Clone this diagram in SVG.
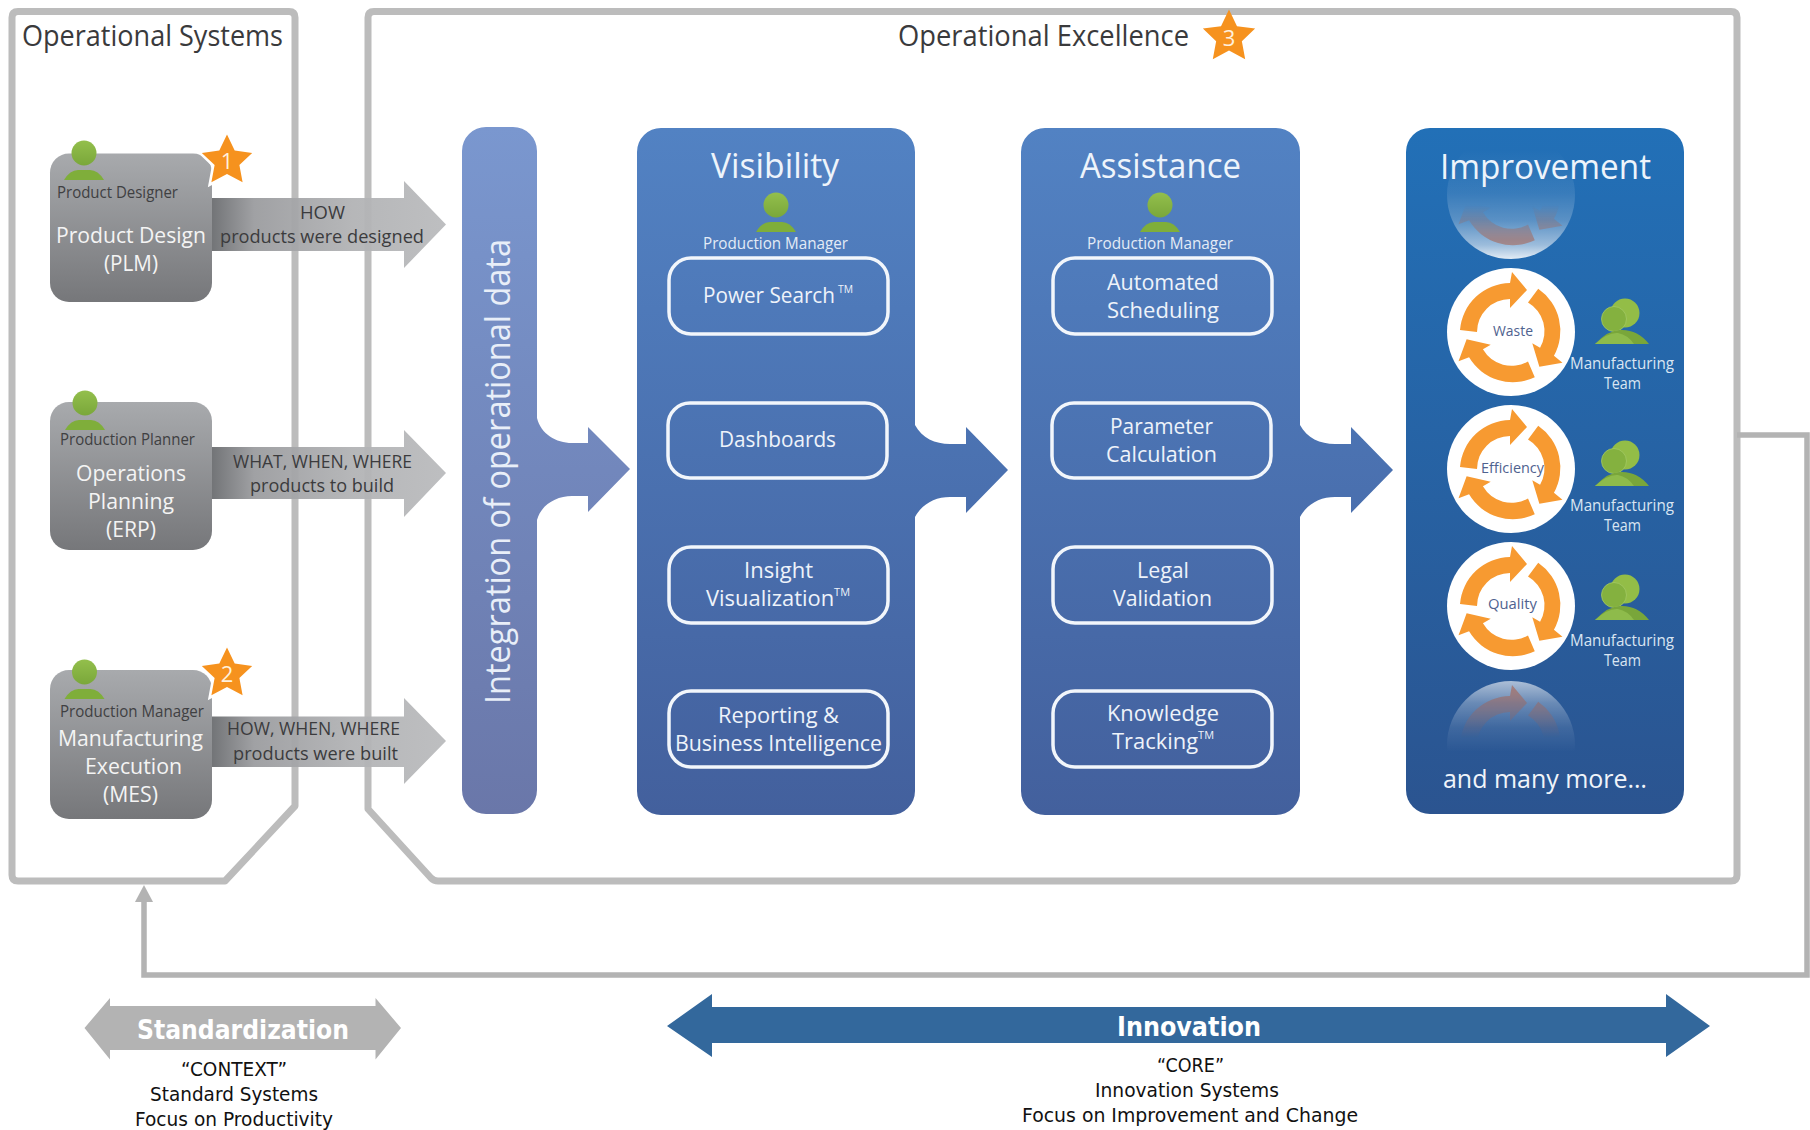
<svg xmlns="http://www.w3.org/2000/svg" xmlns:xlink="http://www.w3.org/1999/xlink" width="1810" height="1130" viewBox="0 0 1810 1130">
<style>
text{font-family:"Open Sans","Noto Sans",sans-serif}
.frame{fill:none;stroke:#bcbcbc;stroke-width:7;stroke-linejoin:round}
.title{font-size:29px;fill:#3a3a3c}
.role{font-size:16px;fill:#3f4042}
.sys{font-size:22px;fill:#f4f4f4}
.lab{font-size:19px;fill:#3b3b3d}
.head{font-size:35px;fill:#eef4fb}
.pm{font-size:16px;fill:#e3ebf6}
.item{font-size:22px;fill:#eef3fa}
.tm{font-size:11px}
.box{fill:none;stroke:#f2f6fb;stroke-width:3.5}
.team{font-size:16px;fill:#d9e5f2}
.cyc{font-size:15px;fill:#4f628f}
.num{font-size:22px;fill:#fff0dc;text-anchor:middle}
.ban{font-family:"DejaVu Sans",sans-serif;font-size:26px;font-weight:bold;fill:#fff}
.cap{font-family:"DejaVu Sans",sans-serif;font-size:20px;fill:#111}
.halo{stroke:#fff;stroke-width:5;paint-order:stroke}
</style>
<defs>
<linearGradient id="gNode" x1="0" y1="0" x2="0" y2="1"><stop offset="0" stop-color="#a8aaad"/><stop offset="1" stop-color="#76777a"/></linearGradient>
<linearGradient id="gArrow" x1="0" y1="0" x2="1" y2="0"><stop offset="0" stop-color="#6b6d70"/><stop offset=".18" stop-color="#9b9c9f"/><stop offset=".6" stop-color="#b2b3b5"/><stop offset="1" stop-color="#babbbd"/></linearGradient>
<linearGradient id="gInt" x1="0" y1="0" x2="0" y2="1"><stop offset="0" stop-color="#7a97cf"/><stop offset="1" stop-color="#6a77a9"/></linearGradient>
<linearGradient id="gPanel" x1="0" y1="0" x2="0" y2="1"><stop offset="0" stop-color="#5282c3"/><stop offset="1" stop-color="#43609d"/></linearGradient>
<linearGradient id="gImp" x1="0" y1="0" x2="0" y2="1"><stop offset="0" stop-color="#2270b7"/><stop offset="1" stop-color="#2b5490"/></linearGradient>
<linearGradient id="gGreen" x1="0" y1="0" x2="0" y2="1"><stop offset="0" stop-color="#93bf4c"/><stop offset="1" stop-color="#7aa73a"/></linearGradient>
<linearGradient id="gDomeTop" gradientUnits="userSpaceOnUse" x1="0" y1="150" x2="0" y2="258"><stop offset="0" stop-color="#fff" stop-opacity="0"/><stop offset=".4" stop-color="#fff" stop-opacity=".1"/><stop offset=".65" stop-color="#fff" stop-opacity=".25"/><stop offset=".88" stop-color="#fff" stop-opacity=".55"/><stop offset="1" stop-color="#fff" stop-opacity=".85"/></linearGradient>
<linearGradient id="gDomeBot" gradientUnits="userSpaceOnUse" x1="0" y1="682" x2="0" y2="752"><stop offset="0" stop-color="#fff" stop-opacity=".6"/><stop offset=".3" stop-color="#fff" stop-opacity=".3"/><stop offset=".65" stop-color="#fff" stop-opacity=".1"/><stop offset="1" stop-color="#fff" stop-opacity="0"/></linearGradient>
<linearGradient id="gSpinTop" gradientUnits="userSpaceOnUse" x1="0" y1="205" x2="0" y2="240"><stop offset="0" stop-color="#fff" stop-opacity="0"/><stop offset="1" stop-color="#fff" stop-opacity=".55"/></linearGradient>
<linearGradient id="gSpinBot" gradientUnits="userSpaceOnUse" x1="0" y1="690" x2="0" y2="738"><stop offset="0" stop-color="#fff" stop-opacity=".6"/><stop offset="1" stop-color="#fff" stop-opacity="0"/></linearGradient>
<mask id="mSpinTop" maskUnits="userSpaceOnUse" x="1440" y="125" width="150" height="140"><rect x="1440" y="125" width="150" height="140" fill="url(#gSpinTop)"/></mask>
<mask id="mSpinBot" maskUnits="userSpaceOnUse" x="1440" y="675" width="150" height="80"><rect x="1440" y="675" width="150" height="80" fill="url(#gSpinBot)"/></mask>
<g id="person"><circle r="12.5" fill="url(#gGreen)"/><path d="M-20,27 Q-14,17 -6,17 H6 Q14,17 20,27 Z" fill="#7fae3a"/></g>
<g id="team"><circle cx="11" cy="-31" r="14.5" fill="#93bd47"/><circle cx="0" cy="-25" r="12.5" fill="#84b13f" stroke="#a3c963" stroke-width=".8"/><path d="M-19,0 Q-5,-15 8,-14 Q24,-14 35,0 Z" fill="#79a63a"/><path d="M-19,0 Q-6,-12 4,-11 Q14,-9 20,0 Z" fill="#8ebb4b"/></g>
<polygon id="star" points="0,-25.4 7.4,-10 24.2,-7.8 11.9,3.9 15,20.5 0,12.5 -15,20.5 -11.9,3.9 -24.2,-7.8 -7.4,-10" fill="#f6921e"/>
<path id="spin" d="M-51,-2 A51,51 0 0 1 -1,-49 L1,-60 L16,-42 L-1,-24 L-1,-33 A33,33 0 0 0 -34,0 Z" fill="#f79a31"/>
<path id="spinF" d="M-51,-2 A51,51 0 0 1 -1,-49 L1,-60 L16,-42 L-1,-24 L-1,-33 A33,33 0 0 0 -34,0 Z" fill="#a85f4c"/>
<g id="cycle"><circle r="64" fill="#fff"/><use xlink:href="#spin" href="#spin"/><use xlink:href="#spin" href="#spin" transform="rotate(120)"/><use xlink:href="#spin" href="#spin" transform="rotate(240)"/></g>
<g id="spinsF"><use xlink:href="#spinF" href="#spinF"/><use xlink:href="#spinF" href="#spinF" transform="rotate(120)"/><use xlink:href="#spinF" href="#spinF" transform="rotate(240)"/></g>
</defs>
<rect width="1810" height="1130" fill="#fff"/>

<g id="operational-systems">
<path class="frame" d="M18,11.500 H289 Q295,11.500 295,17.500 V806 L225,881 H18 Q12,881 12,875 V17.500 Q12,11.500 18,11.500 Z"/>
<text class="title" x="22" y="46" textLength="261" lengthAdjust="spacingAndGlyphs">Operational Systems</text>
</g>
<g id="operational-excellence">
<path class="frame" d="M374,11.500 H1731 Q1737,11.500 1737,17.500 V875 Q1737,881 1731,881 H438 Q434,881 431,878 L368,809 V17.500 Q368,11.500 374,11.500 Z"/>
<text class="title" x="898" y="46" textLength="291" lengthAdjust="spacingAndGlyphs">Operational Excellence</text>
<use xlink:href="#star" href="#star" transform="translate(1229,37) scale(1.08)"/>
<text class="num" x="1229" y="46">3</text>
</g>

<g id="connectors">
<g id="arrow-plm"><path d="M212,198 H404 V181 L446,224.500 L404,268 V251 H212 Z" fill="url(#gArrow)" fill-opacity=".95"/>
<text class="lab" x="300" y="218.500" textLength="45" lengthAdjust="spacingAndGlyphs">HOW</text>
<text class="lab" x="220" y="243" textLength="204" lengthAdjust="spacingAndGlyphs">products were designed</text></g>
<g id="arrow-erp"><path d="M212,447 H404 V430 L446,473 L404,517 V499 H212 Z" fill="url(#gArrow)" fill-opacity=".95"/>
<text class="lab" x="233" y="468" textLength="179" lengthAdjust="spacingAndGlyphs">WHAT, WHEN, WHERE</text>
<text class="lab" x="250" y="492" textLength="144" lengthAdjust="spacingAndGlyphs">products to build</text></g>
<g id="arrow-mes"><path d="M212,716.500 H404 V698 L446,741 L404,784 V767 H212 Z" fill="url(#gArrow)" fill-opacity=".95"/>
<text class="lab" x="227" y="735" textLength="173" lengthAdjust="spacingAndGlyphs">HOW, WHEN, WHERE</text>
<text class="lab" x="233" y="759.500" textLength="165" lengthAdjust="spacingAndGlyphs">products were built</text></g>
<path id="feedback" d="M1737,435 H1807 V975 H144 V898" fill="none" stroke="#b3b3b3" stroke-width="5.500"/>
<polygon points="144,885 153,902 135,902" fill="#b3b3b3"/>
</g>

<g id="node-plm">
<rect x="50" y="153.500" width="162" height="148.500" rx="19" fill="url(#gNode)"/>
<use xlink:href="#person" href="#person" x="84" y="153"/>
<use class="halo" xlink:href="#star" href="#star" transform="translate(227,161) scale(1.04)"/>
<text class="num" x="227" y="169">1</text>
<text class="role" x="57" y="198" textLength="121" lengthAdjust="spacingAndGlyphs">Product Designer</text>
<text class="sys" x="56" y="243" textLength="150" lengthAdjust="spacingAndGlyphs">Product Design</text>
<text class="sys" x="104" y="271" textLength="54" lengthAdjust="spacingAndGlyphs">(PLM)</text>
</g>
<g id="node-erp">
<rect x="50" y="402" width="162" height="148" rx="19" fill="url(#gNode)"/>
<use xlink:href="#person" href="#person" x="85" y="403"/>
<text class="role" x="60" y="445" textLength="135" lengthAdjust="spacingAndGlyphs">Production Planner</text>
<text class="sys" x="76" y="481" textLength="110" lengthAdjust="spacingAndGlyphs">Operations</text>
<text class="sys" x="88" y="509" textLength="86" lengthAdjust="spacingAndGlyphs">Planning</text>
<text class="sys" x="106" y="537" textLength="50" lengthAdjust="spacingAndGlyphs">(ERP)</text>
</g>
<g id="node-mes">
<rect x="50" y="670" width="162" height="149" rx="19" fill="url(#gNode)"/>
<use xlink:href="#person" href="#person" x="84.500" y="672"/>
<use class="halo" xlink:href="#star" href="#star" transform="translate(227,674) scale(1.04)"/>
<text class="num" x="227" y="682">2</text>
<text class="role" x="60" y="716.500" textLength="144" lengthAdjust="spacingAndGlyphs">Production Manager</text>
<text class="sys" x="58" y="746" textLength="145" lengthAdjust="spacingAndGlyphs">Manufacturing</text>
<text class="sys" x="85" y="774" textLength="97" lengthAdjust="spacingAndGlyphs">Execution</text>
<text class="sys" x="103" y="802" textLength="55" lengthAdjust="spacingAndGlyphs">(MES)</text>
</g>

<g id="integration">
<path d="M486,127 H513 A24,24 0 0 1 537,151 V418 C541,434 556,443 572,443 H588 V427 L630,469 L588,512 V496 H572 C556,496 541,505 537,520 V790 A24,24 0 0 1 513,814 H486 A24,24 0 0 1 462,790 V151 A24,24 0 0 1 486,127 Z" fill="url(#gInt)"/>
<text transform="translate(510,704) rotate(-90)" font-size="34" fill="#e8eef8" textLength="465" lengthAdjust="spacingAndGlyphs">Integration of operational data</text>
</g>

<g id="visibility">
<path d="M661,128 H891 A24,24 0 0 1 915,152 V425 C922,438 935,444 950,444 H966 V427 L1008,470 L966,513 V497 H950 C935,497 922,504 915,517 V791 A24,24 0 0 1 891,815 H661 A24,24 0 0 1 637,791 V152 A24,24 0 0 1 661,128 Z" fill="url(#gPanel)"/>
<text class="head" x="711" y="178" textLength="128" lengthAdjust="spacingAndGlyphs">Visibility</text>
<use xlink:href="#person" href="#person" x="776" y="205"/>
<text class="pm" x="703" y="249" textLength="145" lengthAdjust="spacingAndGlyphs">Production Manager</text>
<rect class="box" x="669" y="258" width="219" height="76" rx="22"/>
<text class="item" style="font-size:21px" x="703" y="303" textLength="132" lengthAdjust="spacingAndGlyphs">Power Search</text>
<text class="item tm" x="838" y="293" textLength="15" lengthAdjust="spacingAndGlyphs">TM</text>
<rect class="box" x="668" y="403" width="219" height="75" rx="22"/>
<text class="item" x="719" y="447" textLength="117" lengthAdjust="spacingAndGlyphs">Dashboards</text>
<rect class="box" x="669" y="547" width="219" height="76" rx="22"/>
<text class="item" x="744" y="578" textLength="69" lengthAdjust="spacingAndGlyphs">Insight</text>
<text class="item" x="706" y="606" textLength="144" lengthAdjust="spacingAndGlyphs">Visualization<tspan class="tm" dy="-10">TM</tspan></text>
<rect class="box" x="669" y="691" width="219" height="76" rx="22"/>
<text class="item" x="718" y="723" textLength="121" lengthAdjust="spacingAndGlyphs">Reporting &amp;</text>
<text class="item" x="675" y="751" textLength="207" lengthAdjust="spacingAndGlyphs">Business Intelligence</text>
</g>

<g id="assistance">
<path d="M1045,128 H1276 A24,24 0 0 1 1300,152 V425 C1307,438 1320,444 1335,444 H1351 V427 L1393,470 L1351,513 V497 H1335 C1320,497 1307,504 1300,517 V791 A24,24 0 0 1 1276,815 H1045 A24,24 0 0 1 1021,791 V152 A24,24 0 0 1 1045,128 Z" fill="url(#gPanel)"/>
<text class="head" x="1080" y="178" textLength="161" lengthAdjust="spacingAndGlyphs">Assistance</text>
<use xlink:href="#person" href="#person" x="1160" y="205"/>
<text class="pm" x="1087" y="249" textLength="146" lengthAdjust="spacingAndGlyphs">Production Manager</text>
<rect class="box" x="1053" y="258" width="219" height="76" rx="22"/>
<text class="item" x="1107" y="290" textLength="112" lengthAdjust="spacingAndGlyphs">Automated</text>
<text class="item" x="1107" y="318" textLength="112" lengthAdjust="spacingAndGlyphs">Scheduling</text>
<rect class="box" x="1052" y="403" width="219" height="75" rx="22"/>
<text class="item" x="1110" y="434" textLength="103" lengthAdjust="spacingAndGlyphs">Parameter</text>
<text class="item" x="1106" y="462" textLength="111" lengthAdjust="spacingAndGlyphs">Calculation</text>
<rect class="box" x="1053" y="547" width="219" height="76" rx="22"/>
<text class="item" x="1137" y="578" textLength="52" lengthAdjust="spacingAndGlyphs">Legal</text>
<text class="item" x="1113" y="606" textLength="99" lengthAdjust="spacingAndGlyphs">Validation</text>
<rect class="box" x="1053" y="691" width="219" height="76" rx="22"/>
<text class="item" x="1107" y="721" textLength="112" lengthAdjust="spacingAndGlyphs">Knowledge</text>
<text class="item" x="1112" y="749" textLength="102" lengthAdjust="spacingAndGlyphs">Tracking<tspan class="tm" dy="-10">TM</tspan></text>
</g>

<g id="improvement">
<rect x="1406" y="128" width="278" height="686" rx="24" fill="url(#gImp)"/>
<circle cx="1511" cy="195" r="64" fill="url(#gDomeTop)"/>
<g mask="url(#mSpinTop)"><use xlink:href="#spinsF" href="#spinsF" x="1511" y="195"/></g>
<circle cx="1511" cy="745" r="64" fill="url(#gDomeBot)"/>
<g mask="url(#mSpinBot)"><use xlink:href="#spinsF" href="#spinsF" x="1511" y="745"/></g>
<text class="head" x="1440" y="179" textLength="211" lengthAdjust="spacingAndGlyphs">Improvement</text>
<g id="waste"><use xlink:href="#cycle" href="#cycle" x="1511" y="332"/>
<text class="cyc" x="1493" y="336" textLength="40" lengthAdjust="spacingAndGlyphs">Waste</text>
<use xlink:href="#team" href="#team" x="1614" y="344"/>
<text class="team" x="1570" y="369" textLength="104" lengthAdjust="spacingAndGlyphs">Manufacturing</text>
<text class="team" x="1604" y="389" textLength="37" lengthAdjust="spacingAndGlyphs">Team</text></g>
<g id="efficiency"><use xlink:href="#cycle" href="#cycle" x="1511" y="469"/>
<text class="cyc" x="1481" y="473" textLength="63" lengthAdjust="spacingAndGlyphs">Efficiency</text>
<use xlink:href="#team" href="#team" x="1614" y="486"/>
<text class="team" x="1570" y="511" textLength="104" lengthAdjust="spacingAndGlyphs">Manufacturing</text>
<text class="team" x="1604" y="531" textLength="37" lengthAdjust="spacingAndGlyphs">Team</text></g>
<g id="quality"><use xlink:href="#cycle" href="#cycle" x="1511" y="606"/>
<text class="cyc" x="1488" y="609" textLength="49" lengthAdjust="spacingAndGlyphs">Quality</text>
<use xlink:href="#team" href="#team" x="1614" y="620"/>
<text class="team" x="1570" y="646" textLength="104" lengthAdjust="spacingAndGlyphs">Manufacturing</text>
<text class="team" x="1604" y="666" textLength="37" lengthAdjust="spacingAndGlyphs">Team</text></g>
<text x="1443" y="788" font-size="25" fill="#f0f4fa" textLength="204" lengthAdjust="spacingAndGlyphs">and many more…</text>
</g>

<g id="standardization">
<path d="M84.500,1028 L110,998 V1006 H375.500 V998 L401,1028 L375.500,1059.500 V1050 H110 V1059.500 Z" fill="#b3b3b3"/>
<text class="ban" x="137" y="1038.500" textLength="212" lengthAdjust="spacingAndGlyphs">Standardization</text>
<text class="cap" x="181" y="1076" textLength="106" lengthAdjust="spacingAndGlyphs">“CONTEXT”</text>
<text class="cap" x="150" y="1100.700" textLength="168" lengthAdjust="spacingAndGlyphs">Standard Systems</text>
<text class="cap" x="135" y="1125.700" textLength="198" lengthAdjust="spacingAndGlyphs">Focus on Productivity</text>
</g>
<g id="innovation">
<path d="M667,1026 L712,994 V1007 H1666 V994 L1710,1026 L1666,1057 V1043 H712 V1057 Z" fill="#33689c"/>
<text class="ban" x="1117" y="1036" textLength="144" lengthAdjust="spacingAndGlyphs">Innovation</text>
<text class="cap" x="1157" y="1072" textLength="67" lengthAdjust="spacingAndGlyphs">“CORE”</text>
<text class="cap" x="1095" y="1097" textLength="184" lengthAdjust="spacingAndGlyphs">Innovation Systems</text>
<text class="cap" x="1022" y="1122" textLength="336" lengthAdjust="spacingAndGlyphs">Focus on Improvement and Change</text>
</g>
</svg>
